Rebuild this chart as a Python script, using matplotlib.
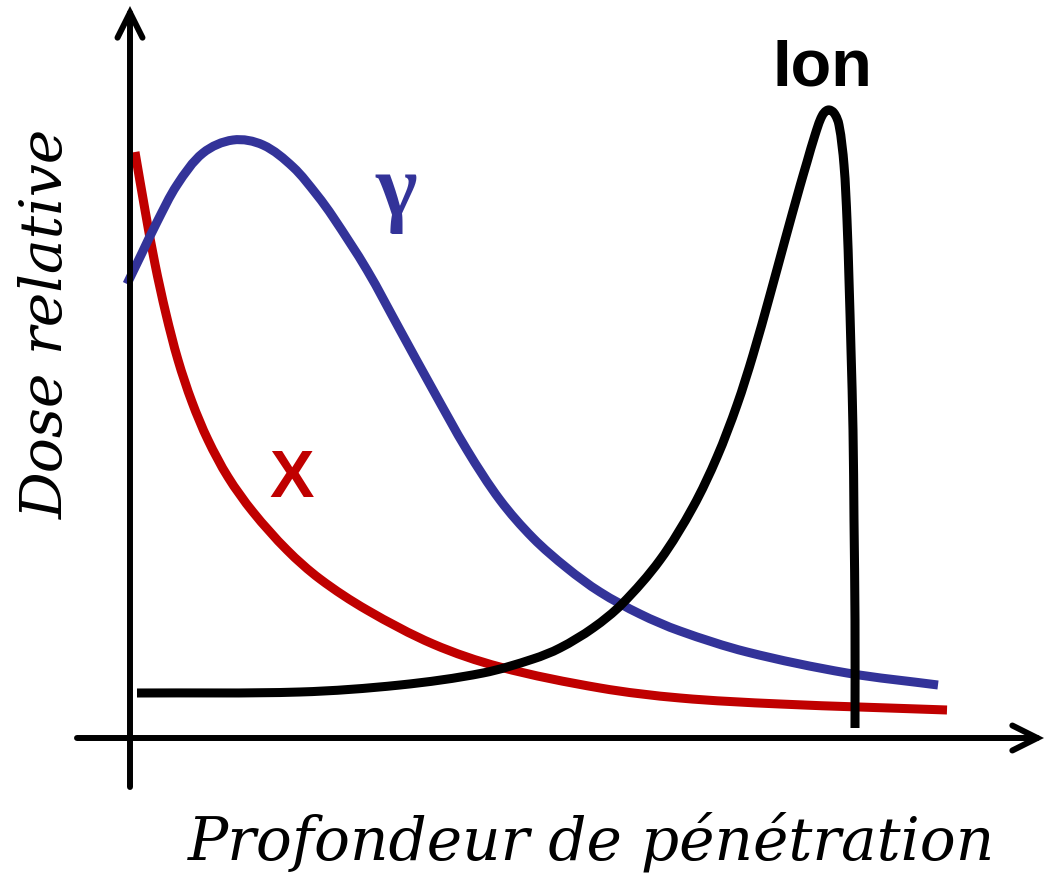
import numpy as np
import matplotlib
matplotlib.use("Agg")
import matplotlib.pyplot as plt
from matplotlib.path import Path
from matplotlib.patches import PathPatch

# ---- data (depth, relative dose; arbitrary units) ----
x_ray_depth = [0.05, 0.15, 0.25, 0.36, 0.48, 0.62, 0.78, 0.98, 1.23, 1.57, 1.90,
               2.37, 3.03, 3.70, 4.70, 5.50, 6.50, 8.17]
x_ray_dose = [5.86, 5.28, 4.74, 4.24, 3.78, 3.36, 2.98, 2.61, 2.26, 1.88, 1.59,
              1.28, 0.94, 0.71, 0.50, 0.40, 0.34, 0.28]

gamma_depth = [-0.03, 0.12, 0.27, 0.47, 0.73, 1.03, 1.33, 1.63, 1.87, 2.03, 2.37,
               2.70, 3.03, 3.37, 3.70, 4.03, 4.37, 4.70, 5.10, 5.50, 6.17, 7.17,
               8.08]
gamma_dose = [4.54, 4.85, 5.16, 5.53, 5.85, 5.98, 5.93, 5.71, 5.43, 5.21, 4.68,
              4.08, 3.48, 2.88, 2.38, 2.00, 1.70, 1.46, 1.24, 1.07, 0.86, 0.65,
              0.53]

ion_depth = [0.07, 1.70, 2.70, 3.53, 4.03, 4.30, 4.63, 4.92, 5.30, 5.63, 5.87,
             6.07, 6.23, 6.40, 6.55, 6.70, 6.77, 6.85, 6.92, 6.98, 7.04, 7.09,
             7.14, 7.17, 7.19, 7.21, 7.23, 7.24, 7.25, 7.25]
ion_dose = [0.45, 0.46, 0.53, 0.65, 0.79, 0.90, 1.10, 1.34, 1.78, 2.31, 2.81,
            3.33, 3.83, 4.43, 4.98, 5.52, 5.76, 6.03, 6.22, 6.28, 6.25, 6.13,
            5.73, 5.18, 4.58, 3.88, 3.08, 2.18, 1.18, 0.10]

labels = {"X": "X", "gamma": "γ", "ion": "Ion"}
xlabel = "Profondeur de pénétration"
ylabel = "Dose relative"

RED = "#C00000"
BLUE = "#333399"


def smooth_path(xs, ys):
    """Cubic Bezier path through the data points (smooth tangents)."""
    p = np.column_stack([xs, ys]).astype(float)
    n = len(p)
    tang = np.zeros_like(p)
    for i in range(n):
        a = p[max(i - 1, 0)]
        b = p[min(i + 1, n - 1)]
        d = b - a
        tang[i] = d / np.hypot(*d)
    verts = [p[0]]
    codes = [Path.MOVETO]
    for i in range(n - 1):
        seg = np.hypot(*(p[i + 1] - p[i]))
        verts += [p[i] + tang[i] * seg / 3, p[i + 1] - tang[i + 1] * seg / 3, p[i + 1]]
        codes += [Path.CURVE4] * 3
    return Path(np.array(verts), codes)


fig = plt.figure(figsize=(10.46, 8.75), dpi=100)
ax = fig.add_axes([0, 0, 1, 1])
ax.set_xlim(-1.30, 9.16)
ax.set_ylim(-1.37, 7.38)
ax.axis("off")

lw = 6.5
for xs, ys, col in [(x_ray_depth, x_ray_dose, RED),
                    (gamma_depth, gamma_dose, BLUE),
                    (ion_depth, ion_dose, "black")]:
    ax.add_patch(PathPatch(smooth_path(xs, ys), facecolor="none", edgecolor=col,
                           lw=lw, capstyle="butt", joinstyle="round"))

# axes arrows
arrow_kw = dict(arrowstyle="->,head_length=0.9,head_width=0.45", lw=4.3,
                color="black", mutation_scale=20, shrinkA=0, shrinkB=0,
                capstyle="round", joinstyle="miter")
ax.annotate("", xy=(9.14, 0.0), xytext=(-0.53, 0.0), arrowprops=arrow_kw)
ax.annotate("", xy=(0.0, 7.32), xytext=(0.0, -0.49), arrowprops=arrow_kw)

# curve labels
ax.text(6.92, 6.53, labels["ion"], fontsize=48, fontweight="bold",
        family="Liberation Sans", ha="center", va="baseline", color="black")
ax.text(1.615, 2.41, labels["X"], fontsize=48, fontweight="bold",
        family="Liberation Sans", ha="center", va="baseline", color=RED)
ax.text(2.665, 5.23, labels["gamma"], fontsize=64, fontweight="bold",
        family="Liberation Serif", ha="center", va="baseline", color=BLUE)

# axis titles
ax.text(4.62, -1.22, xlabel, fontsize=43, style="italic", family="DejaVu Serif",
        ha="center", va="baseline")
ax.text(-0.67, 4.14, ylabel, fontsize=42, style="italic", family="DejaVu Serif",
        ha="center", va="baseline", rotation=90, rotation_mode="anchor")

fig.savefig("out.png", dpi=100)
